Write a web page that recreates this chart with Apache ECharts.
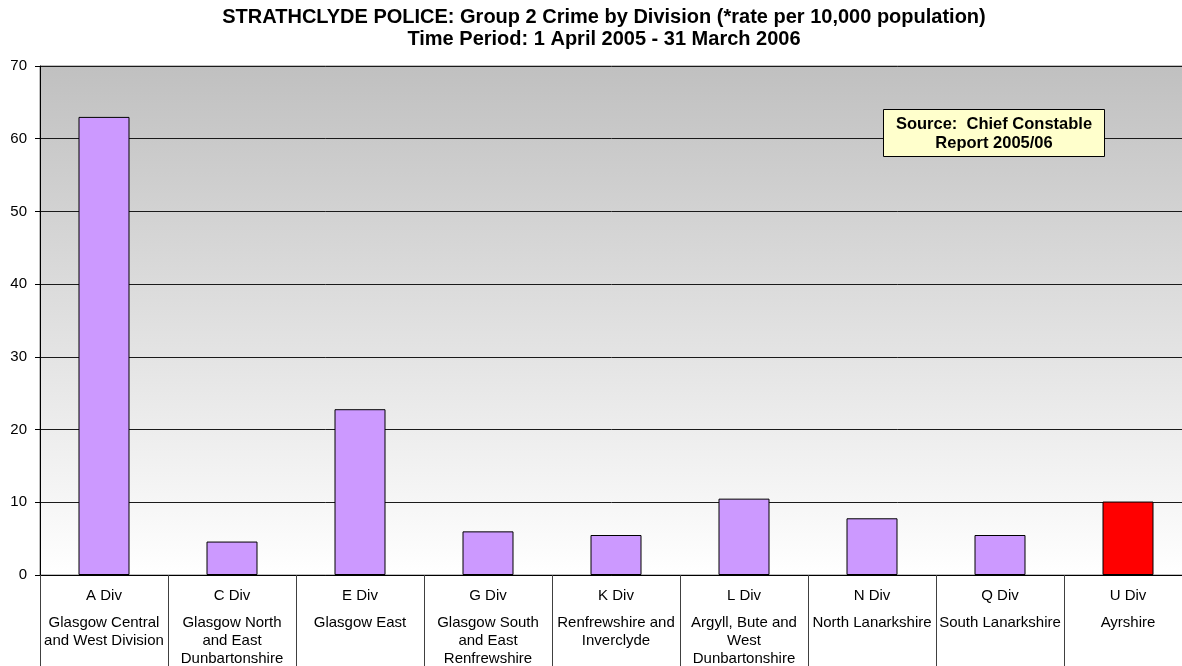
<!DOCTYPE html>
<html>
<head>
<meta charset="utf-8">
<script src="https://cdn.jsdelivr.net/npm/echarts@6/dist/echarts.min.js"></script>
<style>
  html, body { margin: 0; padding: 0; background: #fff; }
  #main { width: 1182px; height: 666px; }
</style>
</head>
<body>
<div id="main"></div>
<script>
var divisions = ['A Div', 'C Div', 'E Div', 'G Div', 'K Div', 'L Div', 'N Div', 'Q Div', 'U Div'];
var areaNames = [
  ['Glasgow Central', 'and West Division'],
  ['Glasgow North', 'and East', 'Dunbartonshire'],
  ['Glasgow East'],
  ['Glasgow South', 'and East', 'Renfrewshire'],
  ['Renfrewshire and', 'Inverclyde'],
  ['Argyll, Bute and', 'West', 'Dunbartonshire'],
  ['North Lanarkshire'],
  ['South Lanarkshire'],
  ['Ayrshire']
];
var rates = [63.0, 4.6, 22.8, 6.0, 5.5, 10.5, 7.8, 5.5, 10.1];
var highlight = 'U Div';

var chartDom = document.getElementById('main');
var myChart = echarts.init(chartDom);
var option;

var labelFont = { fontFamily: 'Liberation Sans', fontSize: 15, color: '#000' };

option = {
  animation: false,
  title: [
    {
      text: 'STRATHCLYDE POLICE: Group 2 Crime by Division (*rate per 10,000 population)\nTime Period: 1 April 2005 - 31 March 2006',
      left: 599,
      top: 1,
      textAlign: 'center',
      textStyle: {
        fontFamily: 'Liberation Sans',
        fontSize: 20,
        fontWeight: 'bold',
        color: '#000',
        lineHeight: 22
      }
    },
    {
      text: 'Source:  Chief Constable\nReport 2005/06',
      left: 981,
      top: 109,
      textAlign: 'center',
      backgroundColor: '#ffffcc',
      borderColor: '#000',
      borderWidth: 1,
      padding: [6, 13, 4, 13],
      textStyle: {
        fontFamily: 'Liberation Sans',
        fontSize: 16.5,
        fontWeight: 'bold',
        color: '#000',
        lineHeight: 19,
        align: 'center'
      }
    }
  ],
  grid: {
    left: 40,
    right: -10,
    top: 66,
    bottom: 91,
    outerBoundsMode: 'none',
    show: true,
    borderColor: '#808080',
    borderWidth: 1,
    backgroundColor: new echarts.graphic.LinearGradient(0, 0, 0, 1, [
      { offset: 0, color: '#c0c0c0' },
      { offset: 1, color: '#ffffff' }
    ])
  },
  xAxis: {
    type: 'category',
    data: divisions,
    axisLine: { lineStyle: { color: '#000', width: 1 } },
    axisTick: {
      show: true,
      interval: 0,
      length: 92,
      lineStyle: { color: '#404040' }
    },
    axisLabel: {
      interval: 0,
      margin: 12,
      verticalAlign: 'top',
      formatter: function (value, idx) {
        var lines = areaNames[idx].map(function (l) { return '{n|' + l + '}'; });
        return '{d|' + value + '}\n{g|}\n' + lines.join('\n');
      },
      rich: {
        d: Object.assign({ lineHeight: 18 }, labelFont),
        g: { lineHeight: 9, height: 9 },
        n: Object.assign({ lineHeight: 18 }, labelFont)
      }
    }
  },
  yAxis: {
    type: 'value',
    min: 0,
    max: 70,
    interval: 10,
    axisLine: { show: true, lineStyle: { color: '#000', width: 1 } },
    axisTick: { show: true, length: 5, lineStyle: { color: '#000' } },
    axisLabel: {
      fontFamily: 'Liberation Sans',
      fontSize: 15,
      color: '#000',
      margin: 13
    },
    splitLine: { lineStyle: { color: '#1a1a1a', width: 1 } }
  },
  series: [
    {
      type: 'bar',
      barWidth: 51,
      data: rates.map(function (v, i) {
        return {
          value: v,
          itemStyle: { color: divisions[i] === highlight ? '#ff0000' : '#cc99ff' }
        };
      }),
      itemStyle: {
        borderColor: '#000',
        borderWidth: 1
      }
    }
  ]
};

option && myChart.setOption(option);
</script>
</body>
</html>
